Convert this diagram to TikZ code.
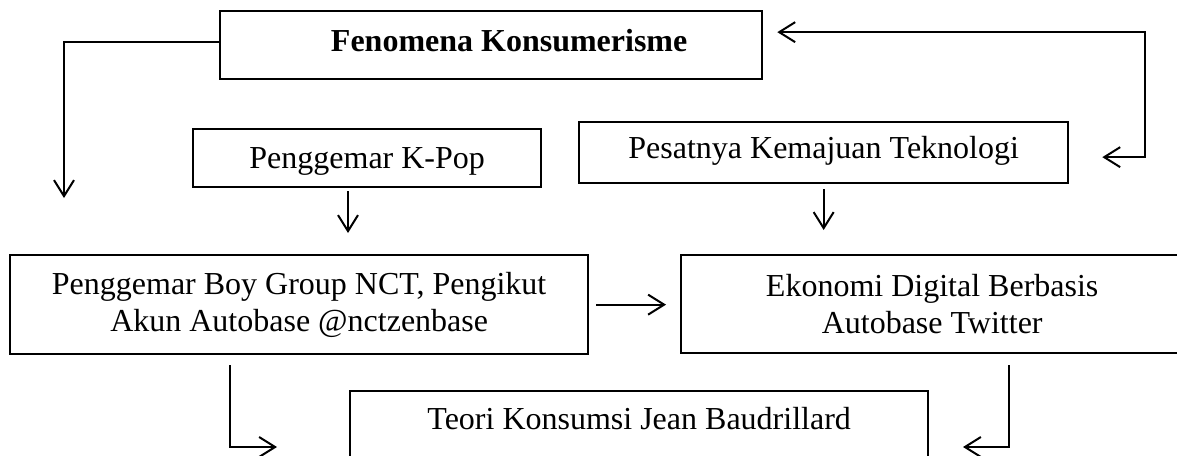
\documentclass[tikz,border=0pt]{standalone}
\usepackage{fontspec}
\setmainfont{Liberation Serif}
\usetikzlibrary{arrows.meta,calc}
\begin{document}
\begin{tikzpicture}[x=1pt,y=-1pt,
  box/.style={draw, line width=2.3pt, inner sep=0pt, align=center, font=\fontsize{32}{37}\selectfont},
  tipb/.tip={Straight Barb[length=16pt,width=20pt]},
  arr/.style={line width=2pt, -tipb},
  ]
\useasboundingbox (0,0) rectangle (1177,455);
\fill[white] (0,0) rectangle (1177,455);
\clip (0,0) rectangle (1177,455);

\node[box, anchor=north west, minimum width=542pt, text height=40pt, text depth=28pt] (fen) at (219,10) {\hspace*{36pt}\bfseries Fenomena Konsumerisme};
\node[box, anchor=north west, minimum width=348pt, text height=39pt, text depth=19pt] (kpop) at (192,128) {Penggemar K-Pop};
\node[box, anchor=north west, minimum width=489pt, text height=36pt, text depth=25pt] (pes) at (578,121) {Pesatnya Kemajuan Teknologi};
\node[box, anchor=north west, minimum width=578pt, minimum height=99pt] (boy) at (9,254) {Penggemar Boy Group NCT, Pengikut\\Akun Autobase @nctzenbase};
\node[box, anchor=north west, minimum width=502pt, minimum height=98pt] (eko) at (680,254) {Ekonomi Digital Berbasis\\Autobase Twitter};
\node[box, anchor=north west, minimum width=578pt, text height=38pt, text depth=60pt] (teo) at (349,390) {Teori Konsumsi Jean Baudrillard};

\coordinate (tipL) at (64,198);
\coordinate (xK) at (348,0);
\coordinate (rx) at (1145,0);
\coordinate (xl) at (230,0);
\coordinate (tl) at (277,447);
\coordinate (xr) at (1009,0);
\coordinate (tr) at (963,447);

\draw[arr] ([yshift=3pt]fen.west) -| (tipL);
\draw[line width=2pt, tipb-tipb, shorten <=14pt, shorten >=33pt] ([yshift=13pt]fen.east) -- ([yshift=13pt]fen.east -| rx) |- ([yshift=-4.5pt]pes.east);
\draw[arr, shorten <=3pt, shorten >=21pt] (kpop.south -| xK) -- (boy.north -| xK);
\draw[arr, shorten <=5pt, shorten >=24pt] (pes.south) -- (eko.north -| pes.south);
\draw[arr, shorten <=7pt, shorten >=14pt] (boy.east) -- (eko.west |- boy.east);
\draw[arr, shorten <=10pt] (boy.south -| xl) |- (tl);
\draw[arr, shorten <=11pt] (eko.south -| xr) |- (tr);
\end{tikzpicture}
\end{document}
